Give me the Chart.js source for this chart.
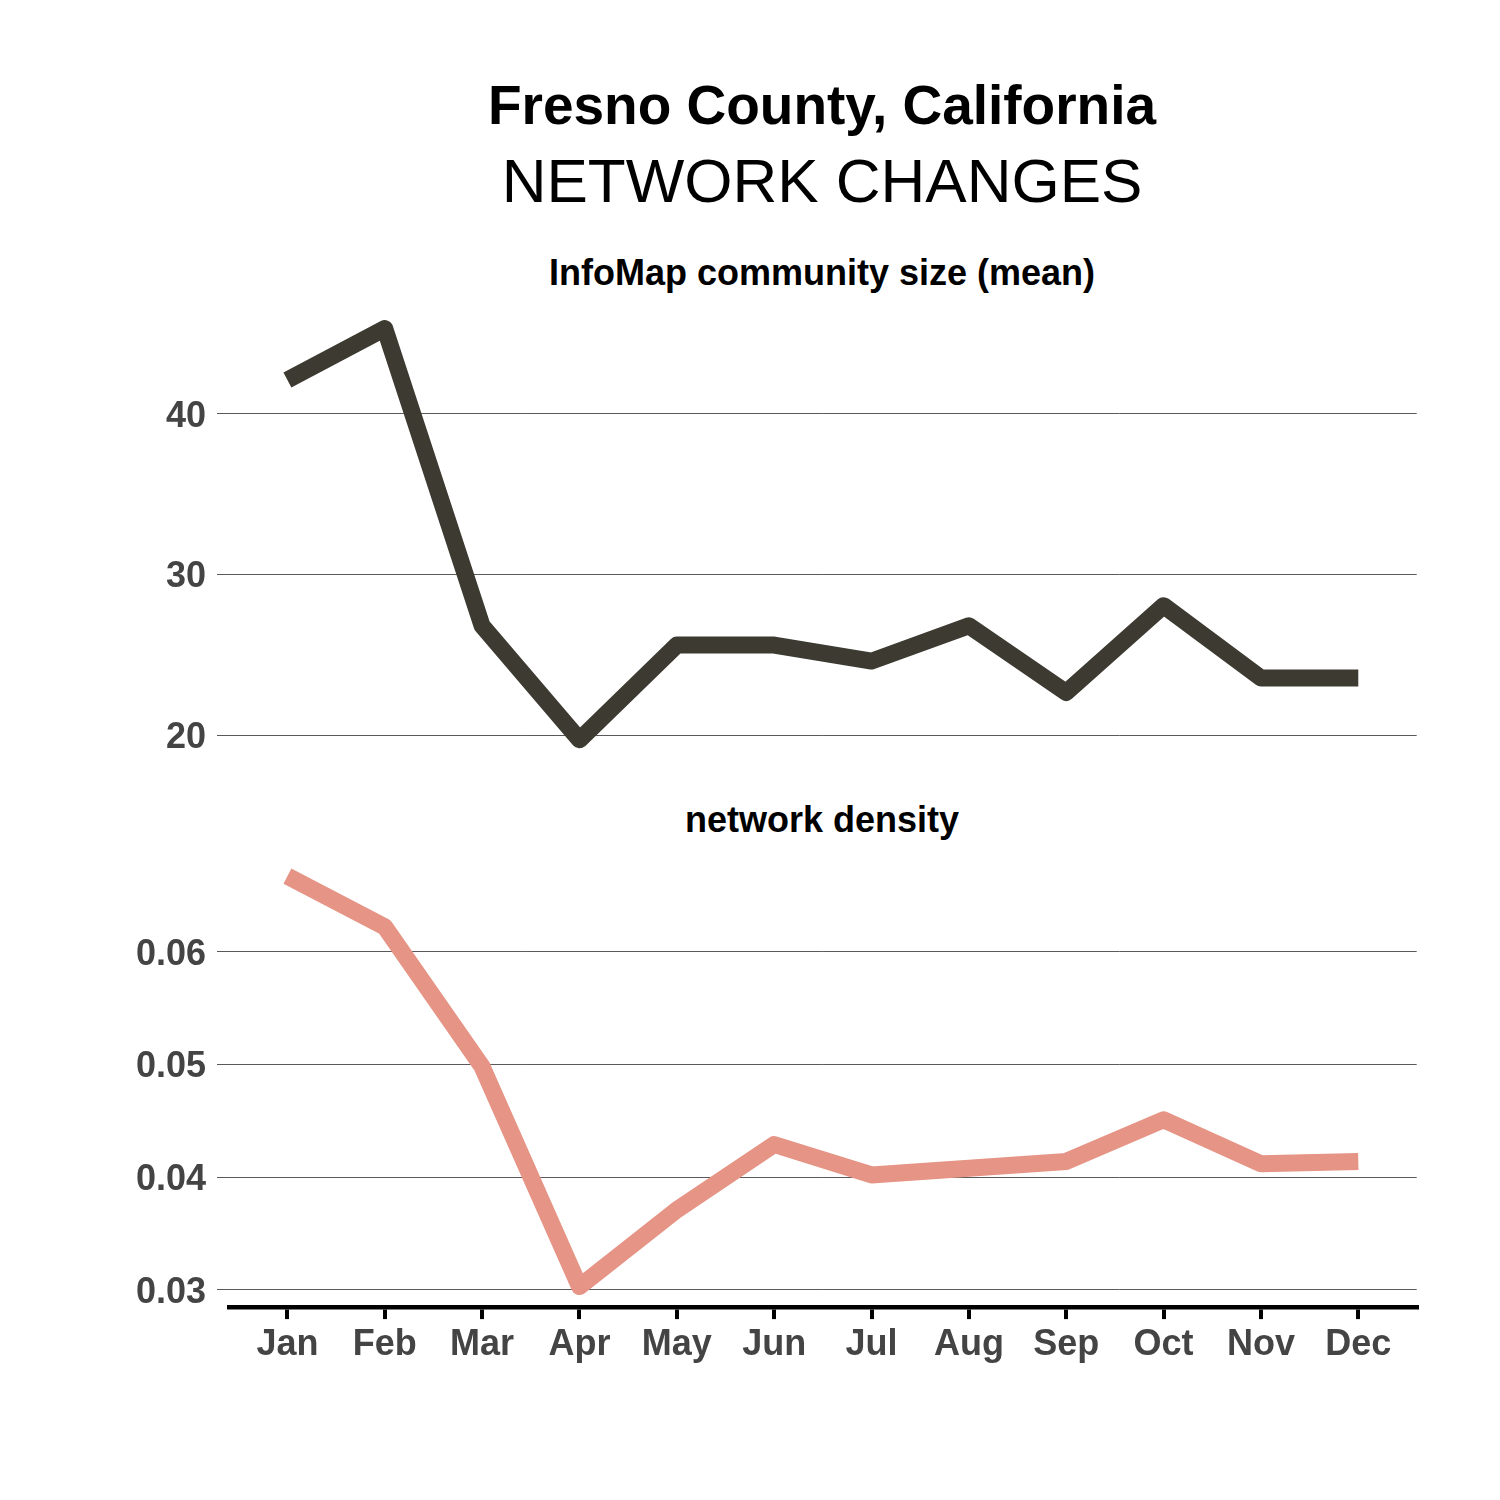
<!DOCTYPE html>
<html>
<head>
<meta charset="utf-8">
<script src="https://cdn.jsdelivr.net/npm/chart.js@4.4.1/dist/chart.umd.min.js"></script>
<style>
  html, body { margin: 0; padding: 0; background: #ffffff; }
  body { width: 1500px; height: 1500px; position: relative; overflow: hidden; font-family: "Liberation Sans", Arial, sans-serif; }
  .t { position: absolute; left: 822px; transform: translateX(-50%); white-space: nowrap; line-height: 1; color: #000; }
  canvas { position: absolute; left: 0; }
</style>
</head>
<body>
<div class="t" style="top:78.4px;font-size:55px;font-weight:bold;">Fresno County, California</div>
<div class="t" style="top:149.5px;font-size:62px;">NETWORK CHANGES</div>
<div class="t" style="top:254.5px;font-size:36px;font-weight:bold;">InfoMap community size (mean)</div>
<div class="t" style="top:801.5px;font-size:36px;font-weight:bold;">network density</div>
<canvas id="bot" width="1500" height="710" style="top:790px;"></canvas>
<canvas id="top" width="1500" height="820" style="top:0px;"></canvas>
<script>
const months = ["Jan","Feb","Mar","Apr","May","Jun","Jul","Aug","Sep","Oct","Nov","Dec"];
const communitySize = [42.1, 45.3, 26.8, 19.7, 25.6, 25.6, 24.6, 26.8, 22.65, 28.05, 23.55, 23.55];
const density = [0.0667, 0.0622, 0.0498, 0.0303, 0.0371, 0.0429, 0.0402, 0.0408, 0.0414, 0.0451, 0.0412, 0.0414];
const sizeTicks = [20, 30, 40];
const densityTicks = [0.03, 0.04, 0.05, 0.06];

const FONT = '"Liberation Sans", Arial, sans-serif';
const toPoints = vals => vals.map((v, i) => ({ x: i, y: v }));

function yScale(min, max, ticks, fmt) {
  return {
    type: 'linear',
    min: min, max: max,
    afterBuildTicks: s => { s.ticks = ticks.map(v => ({ value: v })); },
    afterFit: s => { s.width = 229; },
    border: { display: false },
    grid: { color: '#5a5a5a', lineWidth: 1, drawTicks: true, tickLength: 12, tickColor: '#5a5a5a' },
    ticks: { padding: 11, labelOffset: 3, color: '#444444', font: { family: FONT, size: 36, weight: 'bold' }, callback: fmt }
  };
}

function baseOpts() {
  return {
    responsive: false,
    animation: false,
    devicePixelRatio: 1,
    plugins: { legend: { display: false }, tooltip: { enabled: false }, title: { display: false } },
    elements: { point: { radius: 0, hoverRadius: 0 }, line: { tension: 0 } }
  };
}

const optsTop = baseOpts();
optsTop.layout = { padding: { top: 308, bottom: 59.6, left: 0, right: 83.3 } };
optsTop.scales = {
  x: { type: 'linear', min: -0.6, max: 11.6, display: false },
  y: yScale(18.42, 46.58, sizeTicks, v => String(v))
};

new Chart(document.getElementById('top'), {
  type: 'line',
  data: { datasets: [{
    data: toPoints(communitySize),
    borderColor: '#3c3a31', borderWidth: 17,
    borderJoinStyle: 'round', borderCapStyle: 'butt', fill: false
  }] },
  options: optsTop
});

const optsBot = baseOpts();
optsBot.layout = { padding: { top: 65.6, bottom: 92.9, left: 0, right: 83.3 } };
optsBot.scales = {
  x: {
    type: 'linear', min: -0.6, max: 11.6, position: 'bottom',
    afterBuildTicks: s => { s.ticks = months.map((m, i) => ({ value: i })); },
    afterFit: s => { s.height = 100; },
    border: { display: true, color: '#000000', width: 4.5 },
    grid: { drawOnChartArea: false, drawTicks: true, tickLength: 12, color: '#000000', lineWidth: 4 },
    ticks: { padding: 4, maxRotation: 0, autoSkip: false, color: '#444444',
             font: { family: FONT, size: 36, weight: 'bold' },
             callback: v => months[v] }
  },
  y: yScale(0.02848, 0.06852, densityTicks, v => v.toFixed(2))
};

new Chart(document.getElementById('bot'), {
  type: 'line',
  data: { datasets: [{
    data: toPoints(density),
    borderColor: '#e59485', borderWidth: 17,
    borderJoinStyle: 'round', borderCapStyle: 'butt', fill: false
  }] },
  options: optsBot
});
</script>
</body>
</html>
